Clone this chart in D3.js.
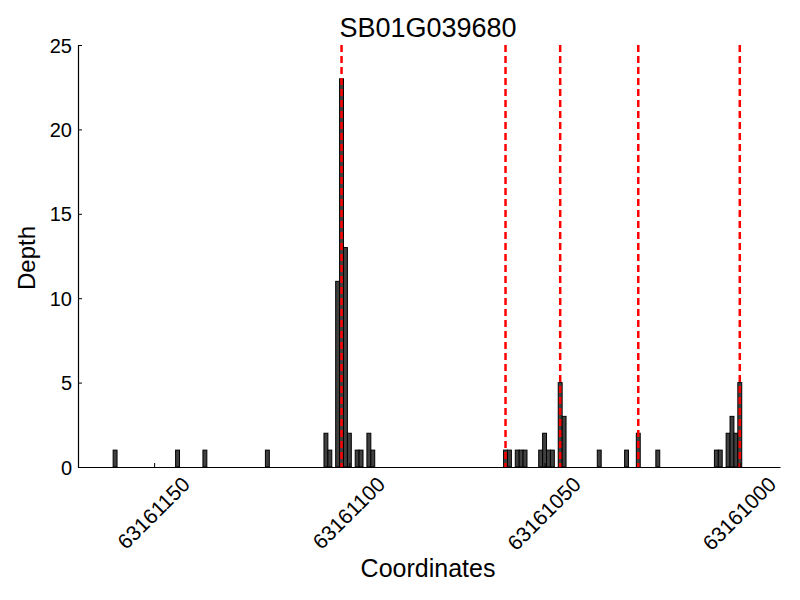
<!DOCTYPE html>
<html>
<head>
<meta charset="utf-8">
<title>SB01G039680</title>
<script src="https://cdn.jsdelivr.net/npm/d3@7"></script>
<style>
  body { margin: 0; background: #fff; }
  text { font-family: "Liberation Sans", Arial, sans-serif; fill: #000; }
</style>
</head>
<body>
<script>
// Data
var geneName = "SB01G039680";
var positions = [63161160, 63161144, 63161137, 63161121, 63161106, 63161105, 63161103, 63161102,
                 63161101, 63161100, 63161098, 63161097, 63161095, 63161094, 63161060, 63161059,
                 63161057, 63161056, 63161055, 63161051, 63161050, 63161049, 63161048, 63161046,
                 63161045, 63161036, 63161029, 63161026, 63161021, 63161006, 63161005, 63161003,
                 63161002, 63161001, 63161000];
var depths = [1, 1, 1, 1, 2, 1, 11, 23,
              13, 2, 1, 1, 2, 1, 1, 1,
              1, 1, 1, 1, 2, 1, 1, 5,
              3, 1, 1, 2, 1, 1, 1, 2,
              3, 2, 5];
var markLines = [63161102, 63161060, 63161046, 63161026, 63161000];
var xTicks = [63161150, 63161100, 63161050, 63161000];
var yTicks = [0, 5, 10, 15, 20, 25];

drawChart();

function drawChart(){

  var w = 800;
  var h = 600;
  var margin = {top: 45, right: 20, bottom: 133, left: 78};
  var graphWidth = w - margin.left - margin.right;
  var graphHeight = h - margin.top - margin.bottom;

  var svg = d3.select("body")
              .append("svg")
              .attr("width", w)
              .attr("height", h);

  var graph = svg.append("g")
                 .attr("transform", `translate(${margin.left}, ${margin.top})`);

  // x axis runs backwards (minus strand)
  var xScale = d3.scaleLinear()
                 .domain([63161169.5, 63160989.7])
                 .range([0, graphWidth]);

  var yScale = d3.scaleLinear()
                 .domain([0, 25])
                 .range([graphHeight, 0]);

  var bars = positions.map((p, i) => ({pos: p, depth: depths[i]}));

  // bars, one base wide
  graph.selectAll("rect")
       .data(bars)
       .enter()
       .append("rect")
       .attr("x", d => xScale(d.pos + 0.5))
       .attr("width", d => xScale(d.pos - 0.5) - xScale(d.pos + 0.5))
       .attr("y", d => yScale(d.depth))
       .attr("height", d => graphHeight - yScale(d.depth))
       .attr("fill", "#404040")
       .attr("stroke", "#000")
       .attr("stroke-width", 1);

  // red dashed marks
  graph.selectAll("line.mark")
       .data(markLines)
       .enter()
       .append("line")
       .attr("class", "mark")
       .attr("x1", d => xScale(d))
       .attr("x2", d => xScale(d))
       .attr("y1", 0)
       .attr("y2", graphHeight)
       .attr("stroke", "red")
       .attr("stroke-width", 2.5)
       .attr("stroke-dasharray", "7,4");

  // axes with inward ticks
  var xAxis = graph.append("g")
                   .attr("transform", `translate(0, ${graphHeight})`)
                   .call(d3.axisBottom(xScale).tickValues(xTicks).tickSizeInner(-4).tickSizeOuter(0).tickFormat(d3.format("d")));

  var yAxis = graph.append("g")
                   .call(d3.axisLeft(yScale).tickValues(yTicks).tickSizeInner(-4).tickSizeOuter(0));

  graph.selectAll(".domain").attr("stroke", "#000").attr("stroke-width", 1.2);
  graph.selectAll(".tick line").attr("stroke", "#000");

  yAxis.selectAll("text")
       .attr("x", -6)
       .attr("dy", "0.35em")
       .style("font-size", "20px");

  // rotated x labels, box centred under the tick
  xAxis.selectAll("text")
       .style("font-size", "21px")
       .attr("text-anchor", "middle")
       .attr("dy", "0.35em")
       .attr("y", 0)
       .attr("transform", function(){
         var len = this.getComputedTextLength();
         var half = (len + 21) * Math.SQRT1_2 / 2;
         return `translate(-1, ${6 + half}) rotate(-45)`;
       });

  // titles
  svg.append("text")
     .attr("x", 428)
     .attr("y", 37)
     .attr("text-anchor", "middle")
     .style("font-size", "27px")
     .text(geneName);

  svg.append("text")
     .attr("x", 428)
     .attr("y", 577)
     .attr("text-anchor", "middle")
     .style("font-size", "25px")
     .text("Coordinates");

  svg.append("text")
     .attr("transform", "translate(35, 258) rotate(-90)")
     .attr("text-anchor", "middle")
     .style("font-size", "24px")
     .text("Depth");
};
</script>
</body>
</html>
